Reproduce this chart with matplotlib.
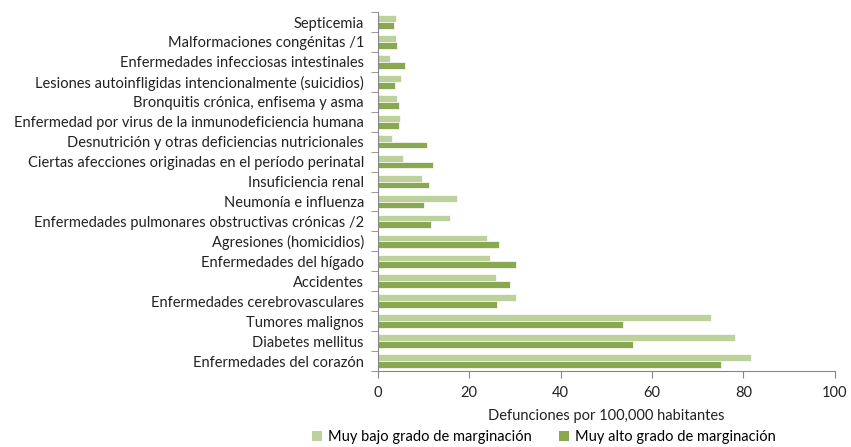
#!/usr/bin/env python3
import numpy as np
import matplotlib
matplotlib.use('Agg')
import matplotlib.pyplot as plt
from matplotlib.patches import Patch

# categories from bottom to top
causes = [
    'Enfermedades del corazón',
    'Diabetes mellitus',
    'Tumores malignos',
    'Enfermedades cerebrovasculares',
    'Accidentes',
    'Enfermedades del hígado',
    'Agresiones (homicidios)',
    'Enfermedades pulmonares obstructivas crónicas /2',
    'Neumonía e influenza',
    'Insuficiencia renal',
    'Ciertas afecciones originadas en el período perinatal',
    'Desnutrición y otras deficiencias nutricionales',
    'Enfermedad por virus de la inmunodeficiencia humana',
    'Bronquitis crónica, enfisema y asma',
    'Lesiones autoinfligidas intencionalmente (suicidios)',
    'Enfermedades infecciosas intestinales',
    'Malformaciones congénitas /1',
    'Septicemia',
]
muy_bajo = [81.6, 78.1, 72.9, 30.3, 25.8, 24.5, 23.9, 15.8, 17.3, 9.7,
            5.5, 3.2, 4.9, 4.1, 5.0, 2.6, 3.9, 3.9]
muy_alto = [75.0, 55.9, 53.7, 26.0, 29.0, 30.2, 26.5, 11.7, 10.0, 11.2,
            12.0, 10.8, 4.7, 4.7, 3.8, 6.0, 4.2, 3.5]

series_labels = ['Muy bajo grado de marginación', 'Muy alto grado de marginación']
x_ticks = [0, 20, 40, 60, 80, 100]

light = '#bcd19c'
dark = '#8aa752'
grey = '#868686'

plt.rcParams['font.family'] = ['Lato', 'DejaVu Sans']

fig = plt.figure(figsize=(8.51, 4.47), dpi=100)
ax = fig.add_axes([0.444, 0.170, 0.537, 0.803])

y = np.arange(len(causes))
h = 0.34
ax.barh(y + h / 2, muy_bajo, height=h, color=light, edgecolor='white', linewidth=0.5)
ax.barh(y - h / 2, muy_alto, height=h, color=dark, edgecolor='white', linewidth=0.5)

ax.set_ylim(-0.5, len(causes) - 0.5)
ax.set_yticks(y)
ax.set_yticklabels(causes, fontsize=10.5, color='#222222')
ax.set_yticks(np.arange(len(causes) + 1) - 0.5, minor=True)
ax.tick_params(axis='y', which='major', length=0, pad=10)
ax.tick_params(axis='y', which='minor', length=5, color=grey)

ax.set_xlim(0, 100)
ax.set_xticks(x_ticks)
ax.set_xticklabels([str(t) for t in x_ticks], fontsize=10.5, color='#222222')
ax.tick_params(axis='x', length=5, color=grey, pad=6)
ax.set_xlabel('Defunciones por 100,000 habitantes', fontsize=10.5, labelpad=6,
              color='#222222')

for s in ['top', 'right']:
    ax.spines[s].set_visible(False)
for s in ['left', 'bottom']:
    ax.spines[s].set_color(grey)

handles = [Patch(facecolor=light, label=series_labels[0]),
           Patch(facecolor=dark, label=series_labels[1])]
fig.legend(handles=handles, loc='center', bbox_to_anchor=(0.639, 0.022), ncol=2,
           frameon=False, fontsize=10.5, handlelength=0.7, handleheight=0.7,
           handletextpad=0.4, columnspacing=1.9)

fig.savefig('out.png', dpi=100)
